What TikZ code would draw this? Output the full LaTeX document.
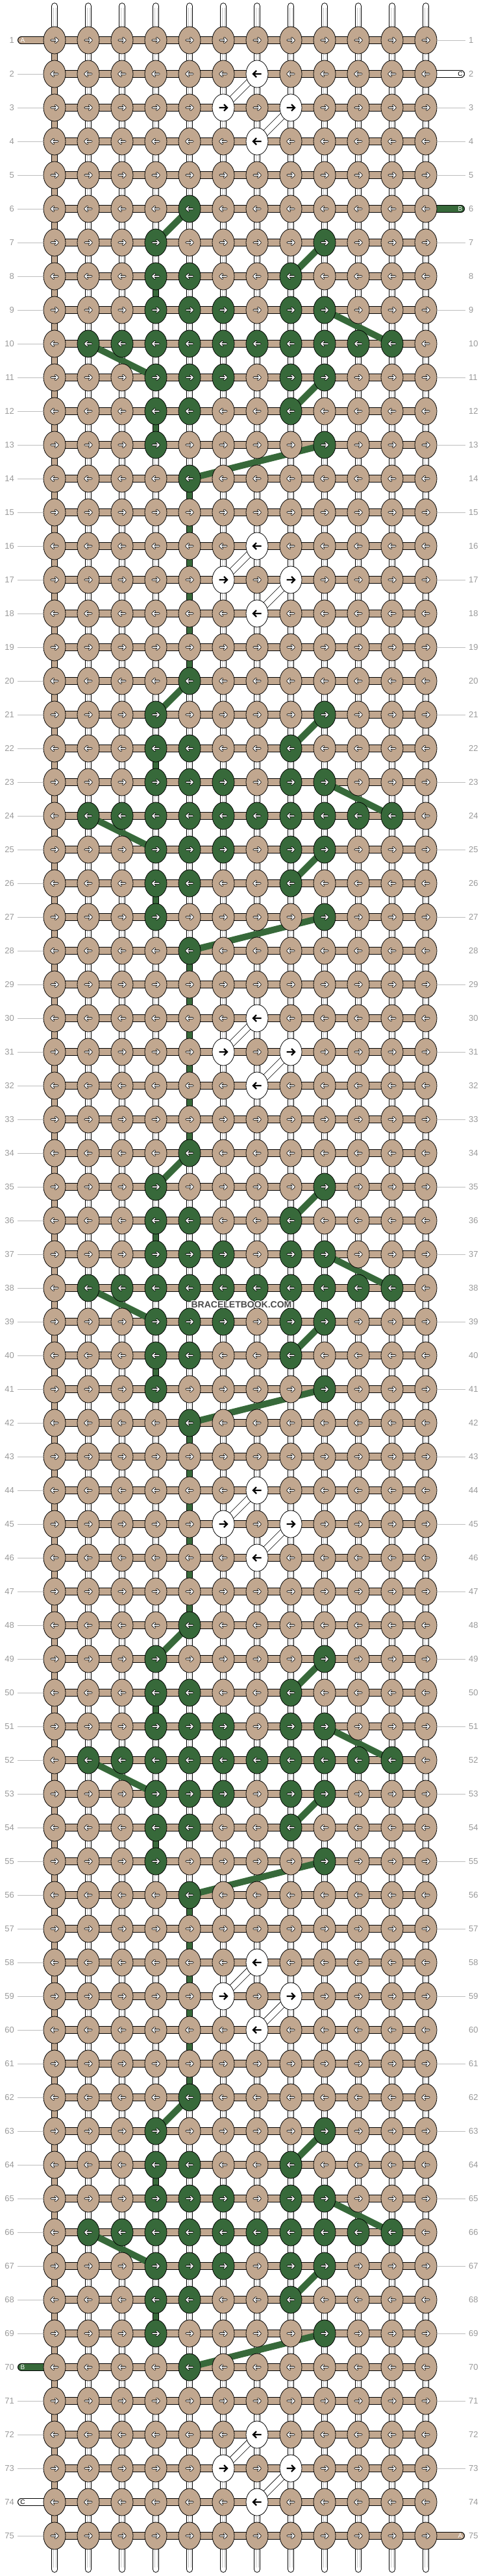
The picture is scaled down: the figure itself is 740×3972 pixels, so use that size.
\documentclass[tikz,border=0pt]{standalone}
\usepackage{fontspec}
\setmainfont{Liberation Sans}
\usetikzlibrary{shapes.geometric}
\definecolor{knT}{HTML}{C1A78F}
\definecolor{knG}{HTML}{37693A}
\definecolor{knW}{HTML}{FFFFFF}
\definecolor{lblgray}{HTML}{9A9A9A}
\definecolor{linegray}{HTML}{BDBDBD}
\definecolor{wmgray}{HTML}{4A4A4A}
\def\patA{T,T,T,T,T,T,W,T,T,T,T,T}
\def\patB{T,T,T,T,T,W,T,W,T,T,T,T}
\def\patN{T,T,T,T,T,T,T,T,T,T,T,T}
\def\patC{T,T,T,T,G,T,T,T,T,T,T,T}
\def\patD{T,T,T,G,T,T,T,T,G,T,T,T}
\def\patE{T,T,T,G,G,T,T,G,T,T,T,T}
\def\patF{T,T,T,G,G,G,T,G,G,T,T,T}
\def\patG{T,G,G,G,G,G,G,G,G,G,G,T}
\begin{document}
\begin{tikzpicture}[x=1pt,y=-1pt,
  knot/.style={ellipse, draw=black, line width=0.8pt, minimum width=34pt, minimum height=42pt, inner sep=0pt, outer sep=0pt},
  vout/.style={line width=10.6pt, draw=black, line cap=round},
  vin/.style={line width=8.6pt, draw=white, line cap=round},
  vgray/.style={line width=0.6pt, draw=black!22},
  segout/.style={line width=10.6pt, draw=black},
  segT/.style={line width=8.6pt, draw=knT},
  segG/.style={line width=8.6pt, draw=knG},
  hout/.style={line width=12pt, draw=black},
  hin/.style={line width=10pt, draw=knT},
  glink/.style={line width=10pt, draw=knG},
  wlinkO/.style={line width=10.5pt, draw=black},
  wlinkI/.style={line width=8.9pt, draw=white},
  arrO/.style={line width=3.2pt, draw=black, line cap=round, line join=round},
  arrI/.style={line width=1.5pt, draw=white, line cap=round, line join=round},
  arrB/.style={line width=2.3pt, draw=black, line cap=butt, line join=miter},
  rowlbl/.style={text=lblgray, inner sep=0pt, font=\fontsize{13}{13}\selectfont},
  strandlbl/.style={inner sep=0pt, font=\fontsize{10}{10}\selectfont},
  lblline/.style={draw=linegray, line width=0.9pt},
  wmtext/.style={inner sep=0pt, font=\bfseries\fontsize{14}{14}\selectfont}
]
\useasboundingbox[fill=white] (0,0) rectangle (740,3972);

% grid coordinates
\foreach \r in {1,...,75}{
  \foreach \c in {1,...,12}{
    \coordinate (p-\r-\c) at ({84+52*(\c-1)},{62+52*(\r-1)});
  }
}
\foreach \c in {1,...,12}{
  \coordinate (p-0-\c) at ({84+52*(\c-1)},9.5);
  \coordinate (p-76-\c) at ({84+52*(\c-1)},3961.5);
}

% vertical (passive) strands
\foreach \c in {1,...,12}{
  \draw[vout] (p-0-\c) -- (p-76-\c);
  \draw[vin] (p-0-\c) -- (p-76-\c);
  \draw[vgray] ([shift={(-2.2,3)}]p-0-\c) -- ([shift={(-2.2,-3)}]p-76-\c);
  \draw[vgray] ([shift={(2.2,3)}]p-0-\c) -- ([shift={(2.2,-3)}]p-76-\c);
}

% tan turns at the edges
\foreach \r in {1,...,74}{
  \pgfmathtruncatemacro\rn{\r+1}
  \pgfmathtruncatemacro\ce{\ifodd\r 12\else 1\fi}
  \draw[segout] (p-\r-\ce) -- (p-\rn-\ce);
  \draw[segT] (p-\r-\ce) -- (p-\rn-\ce);
}

% green vertical segments
\foreach \r/\c in {8/4,12/4,22/4,26/4,36/4,40/4,50/4,54/4,64/4,68/4,
  14/5,15/5,16/5,17/5,18/5,19/5,28/5,29/5,30/5,31/5,32/5,33/5,
  42/5,43/5,44/5,45/5,46/5,47/5,56/5,57/5,58/5,59/5,60/5,61/5}{
  \pgfmathtruncatemacro\rn{\r+1}
  \draw[segout] (p-\r-\c) -- (p-\rn-\c);
  \draw[segG] (p-\r-\c) -- (p-\rn-\c);
}

% horizontal working threads
\foreach \r in {1,...,75}{
  \draw[hout] (p-\r-1) -- (p-\r-12);
  \draw[hin] (p-\r-1) -- (p-\r-12);
}

% thread ends at the sides
\coordinate (eA1) at (33,62);
\coordinate (eC2) at (710,114);
\coordinate (eB6) at (710,322);
\coordinate (eB70) at (33,3650);
\coordinate (eC74) at (33,3858);
\coordinate (eA75) at (710,3910);
\draw[hout, line cap=round] (eA1) -- (p-1-1);
\draw[hin, line cap=round] (eA1) -- (p-1-1);
\draw[hout, line cap=round] (eC2) -- (p-2-12);
\draw[hin, draw=white, line cap=round] (eC2) -- (p-2-12);
\draw[hout, line cap=round] (eB6) -- (p-6-12);
\draw[hin, draw=knG, line cap=round] (eB6) -- (p-6-12);
\draw[hout, line cap=round] (eB70) -- (p-70-1);
\draw[hin, draw=knG, line cap=round] (eB70) -- (p-70-1);
\draw[hout, line cap=round] (eC74) -- (p-74-1);
\draw[hin, draw=white, line cap=round] (eC74) -- (p-74-1);
\draw[hout, line cap=round] (eA75) -- (p-75-12);
\draw[hin, line cap=round] (eA75) -- (p-75-12);
\node[strandlbl, text=white] (tA1) at (35,62.5) {A};
\node[strandlbl, text=black] (tC2) at (709,114.5) {C};
\node[strandlbl, text=white] (tB6) at (709,322.5) {B};
\node[strandlbl, text=white] (tB70) at (35,3650.5) {B};
\node[strandlbl, text=black] (tC74) at (35,3858.5) {C};
\node[strandlbl, text=white] (tA75) at (709,3910.5) {A};

% green diagonal links
\foreach \k in {0,...,4}{
  \pgfmathtruncatemacro\ra{6+14*\k}
  \pgfmathtruncatemacro\rb{7+14*\k}
  \pgfmathtruncatemacro\rc{8+14*\k}
  \pgfmathtruncatemacro\rd{9+14*\k}
  \pgfmathtruncatemacro\re{10+14*\k}
  \pgfmathtruncatemacro\rf{11+14*\k}
  \pgfmathtruncatemacro\rg{12+14*\k}
  \pgfmathtruncatemacro\rh{13+14*\k}
  \pgfmathtruncatemacro\ri{14+14*\k}
  \draw[glink] (p-\ra-5) -- (p-\rb-4);
  \draw[glink] (p-\rb-9) -- (p-\rc-8);
  \draw[glink] (p-\rd-9) -- (p-\re-11);
  \draw[glink] (p-\re-2) -- (p-\rf-4);
  \draw[glink] (p-\rf-9) -- (p-\rg-8);
  \draw[glink] (p-\rh-9) -- (p-\ri-5);
}
% white diagonal links
\foreach \k in {0,...,5}{
  \pgfmathtruncatemacro\wa{2+14*\k}
  \pgfmathtruncatemacro\wb{3+14*\k}
  \pgfmathtruncatemacro\wc{4+14*\k}
  \draw[wlinkO] (p-\wa-7) -- (p-\wb-6);
  \draw[wlinkI] (p-\wa-7) -- (p-\wb-6);
  \draw[wlinkO] (p-\wb-8) -- (p-\wc-7);
  \draw[wlinkI] (p-\wb-8) -- (p-\wc-7);
}

% knots with arrows
\foreach \r in {1,...,75}{
  \pgfmathtruncatemacro\m{mod(\r+12,14)}
  \pgfmathtruncatemacro\d{1-2*mod(\r+1,2)}
  \ifcase\m\let\pat\patA\or\let\pat\patB\or\let\pat\patA\or\let\pat\patN\or\let\pat\patC\or\let\pat\patD\or\let\pat\patE\or\let\pat\patF\or\let\pat\patG\or\let\pat\patF\or\let\pat\patE\or\let\pat\patD\or\let\pat\patC\or\let\pat\patN\fi
  \foreach \col [count=\c] in \pat {
    \node[knot, fill=kn\col] (k-\r-\c) at (p-\r-\c) {};
    \if W\col
      \draw[arrB, shift={(p-\r-\c)}, xscale=\d] (-6.5,0) -- (5,0) (1,-5) -- (6,0) -- (1,5);
    \else
      \draw[arrO, shift={(p-\r-\c)}, xscale=\d] (-5,0) -- (5,0) (1.5,-3.4) -- (5,0) -- (1.5,3.4);
      \draw[arrI, shift={(p-\r-\c)}, xscale=\d] (-5,0) -- (5,0) (1.5,-3.4) -- (5,0) -- (1.5,3.4);
    \fi
  }
}

% row numbers and guide lines
\foreach \r in {2,...,69,71,72,73,75}{
  \draw[lblline] ({27},{62+52*(\r-1)}) -- ([xshift=-17pt]p-\r-1);
}
\foreach \r in {1,3,4,5,7,...,74}{
  \draw[lblline] ([xshift=17pt]p-\r-12) -- ({717},{62+52*(\r-1)});
}
\foreach \r in {1,...,75}{
  \node[rowlbl, anchor=east] (ll-\r) at (22,{62+52*(\r-1)}) {\r};
  \node[rowlbl, anchor=west] (rl-\r) at (722,{62+52*(\r-1)}) {\r};
}

% watermark
\foreach \dx/\dy in {-1/0,1/0,0/-1,0/1,-1/-1,1/1,-1/1,1/-1}{
  \node[wmtext, text=white] at ({372+\dx},{2012+\dy}) {BRACELETBOOK.COM};
}
\node[wmtext, text=wmgray] (wm) at (372,2012) {BRACELETBOOK.COM};
\end{tikzpicture}
\end{document}
